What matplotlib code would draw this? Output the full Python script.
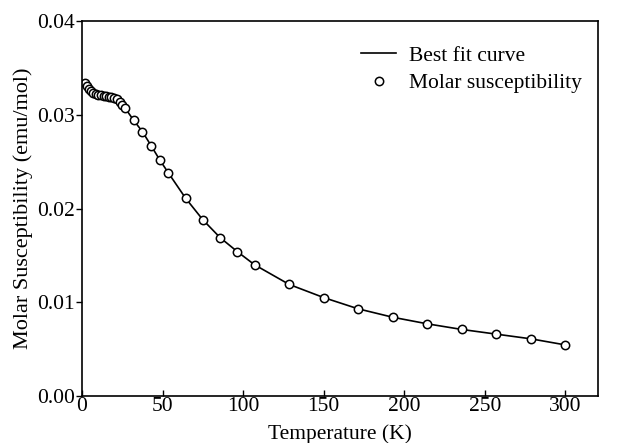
import matplotlib
matplotlib.use("Agg")
import matplotlib.pyplot as plt
from matplotlib.ticker import FormatStrFormatter

plt.rcParams['font.family'] = ['Liberation Serif', 'DejaVu Serif']

temperature = [2.0, 3.0, 4.2, 5.5, 7.0, 8.6, 10.2, 11.8, 13.4, 15.0, 16.6, 18.2,
               19.8, 21.6, 23.4, 25.1, 26.8, 32.1, 37.5, 42.9, 48.2, 53.6, 64.3,
               75.0, 85.7, 96.4, 107.1, 128.6, 150.0, 171.4, 192.9, 214.3, 235.7,
               257.1, 278.6, 300.0]
susceptibility = [0.0334, 0.0331, 0.0328, 0.0325, 0.0323, 0.0322, 0.03215, 0.0321,
                  0.03205, 0.0320, 0.03193, 0.03185, 0.0318, 0.03165, 0.0314, 0.0310,
                  0.0307, 0.0294, 0.0282, 0.0267, 0.0252, 0.0238, 0.0211,
                  0.0188, 0.0169, 0.0154, 0.0140, 0.0119, 0.0105, 0.0093, 0.0084,
                  0.0077, 0.0071, 0.0066, 0.0061, 0.00545]

xticks = [0, 50, 100, 150, 200, 250, 300]
yticks = [0.00, 0.01, 0.02, 0.03, 0.04]

fig = plt.figure(figsize=(6.17, 4.43), dpi=100)
ax = fig.add_axes([82/617, 1-396/443, (598-82)/617, (396-21)/443])

ax.plot(temperature, susceptibility, '-', color='black', lw=1.2, label='Best fit curve')
ax.plot(temperature, susceptibility, 'o', mfc='white', mec='black', mew=1.1, ms=6,
        linestyle='none', label='Molar susceptibility')

ax.set_xlim(0, 320.3)
ax.set_ylim(0, 0.04)
ax.set_xticks(xticks)
ax.set_yticks(yticks)
ax.yaxis.set_major_formatter(FormatStrFormatter('%.2f'))
ax.tick_params(axis='y', direction='out', length=4, width=1, labelsize=15.5, pad=1)
ax.tick_params(axis='x', direction='in', length=4, width=1, labelsize=15.5, pad=1)
for s in ax.spines.values():
    s.set_linewidth(1.2)

ax.set_xlabel('Temperature (K)', fontsize=15.5, labelpad=6)
ax.set_ylabel('Molar Susceptibility (emu/mol)', fontsize=16, labelpad=3)

leg = ax.legend(loc='upper right', bbox_to_anchor=(0.9845, 0.9573), frameon=False,
                fontsize=15.5, handlelength=1.63, handletextpad=0.56,
                borderaxespad=0.0, labelspacing=0.35)

fig.savefig('out.png', dpi=100)
